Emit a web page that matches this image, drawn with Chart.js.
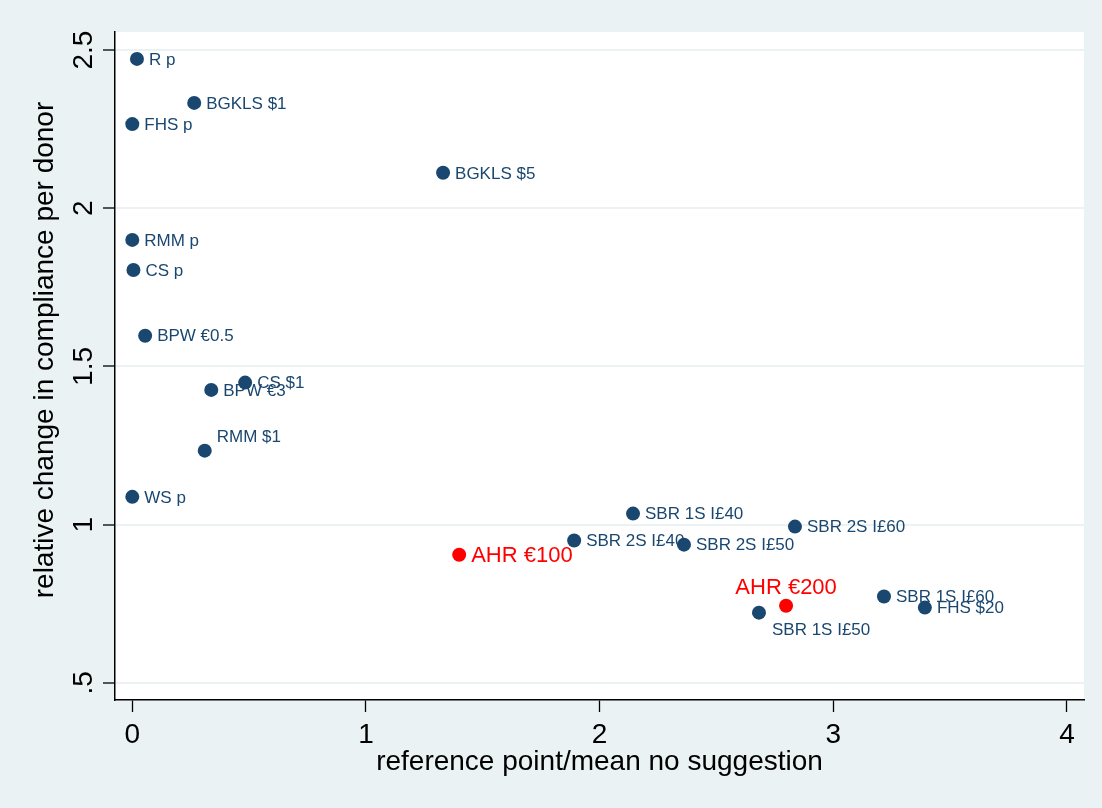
<!DOCTYPE html>
<html>
<head>
<meta charset="utf-8">
<script src="https://cdn.jsdelivr.net/npm/chart.js@4.4.0/dist/chart.umd.min.js"></script>
<style>
  html, body { margin: 0; padding: 0; background: #eaf2f3; }
  #wrap { width: 1102px; height: 808px; }
</style>
</head>
<body>
<div id="wrap"><canvas id="chart" width="1102" height="808"></canvas></div>
<script>
// studies (navy)
const studyNames = ["R p", "BGKLS $1", "FHS p", "BGKLS $5", "RMM p", "CS p", "BPW €0.5",
  "CS $1", "BPW €3", "RMM $1", "WS p", "SBR 1S I£40", "SBR 2S I£60", "SBR 2S I£40",
  "SBR 2S I£50", "SBR 1S I£50", "SBR 1S I£60", "FHS $20"];
const studyX = [0.02, 0.265, 0.0, 1.33, 0.0, 0.005, 0.055, 0.483, 0.338, 0.31, 0.0,
  2.143, 2.836, 1.891, 2.361, 2.682, 3.217, 3.392];
const studyY = [2.472, 2.333, 2.266, 2.112, 1.90, 1.805, 1.597, 1.449, 1.426, 1.234, 1.088,
  1.035, 0.994, 0.950, 0.937, 0.722, 0.773, 0.738];

// this study (red)
const ahrNames = ["AHR €100", "AHR €200"];
const ahrX = [1.399, 2.798];
const ahrY = [0.905, 0.744];

const xTicks = [0, 1, 2, 3, 4];
const yTicks = [0.5, 1, 1.5, 2, 2.5];
const yTickLabels = [".5", "1", "1.5", "2", "2.5"];

// clock position of each label (3 = right of marker)
const studyLabelPos = [3, 3, 3, 3, 3, 3, 3, 3, 3, 1, 3, 3, 3, 3, 3, 5, 3, 3];
const ahrLabelPos = [3, 12];

const NAVY = "#1a476f";
const FONT = '"Liberation Sans", Arial, sans-serif';

function pts(xs, ys) {
  return xs.map((x, i) => ({ x: x, y: ys[i] }));
}

const decor = {
  id: "decor",
  beforeDraw(chart) {
    const { ctx, chartArea: a } = chart;
    ctx.save();
    ctx.fillStyle = "#eaf2f3";
    ctx.fillRect(0, 0, chart.width, chart.height);
    ctx.fillStyle = "#ffffff";
    ctx.fillRect(a.left, a.top, a.right - a.left, a.bottom - a.top);
    ctx.restore();
  },
  afterDatasetsDraw(chart) {
    const ctx = chart.ctx;
    const xs = chart.scales.x, ys = chart.scales.y;
    ctx.save();
    chart.data.datasets.forEach(ds => {
      ds.data.forEach((p, i) => {
        const px = xs.getPixelForValue(p.x);
        const py = ys.getPixelForValue(p.y);
        const pos = ds.labelPos[i];
        ctx.fillStyle = ds.labelColor;
        ctx.font = ds.labelSize + "px " + FONT;
        ctx.textBaseline = "middle";
        ctx.textAlign = "left";
        let tx = px + 12, ty = py + 1;
        if (pos === 1) { tx = px + 12; ty = py - 13; }
        if (pos === 5) { tx = px + 13; ty = py + 18; }
        if (pos === 12) { ctx.textAlign = "center"; tx = px; ty = py - 18; }
        ctx.fillText(ds.names[i], tx, ty);
      });
    });
    ctx.restore();
  },
  afterDraw(chart) {
    const ctx = chart.ctx;
    const xs = chart.scales.x, ys = chart.scales.y;
    ctx.save();
    ctx.fillStyle = "#000";
    ctx.font = "28px " + FONT;
    ctx.textAlign = "center";
    ctx.textBaseline = "middle";
    xTicks.forEach(v => ctx.fillText(String(v), xs.getPixelForValue(v), 735));
    yTicks.forEach((v, i) => {
      ctx.save();
      ctx.translate(84, ys.getPixelForValue(v));
      ctx.rotate(-Math.PI / 2);
      ctx.fillText(yTickLabels[i], 0, 0);
      ctx.restore();
    });
    ctx.fillText("reference point/mean no suggestion", (chart.chartArea.left + chart.chartArea.right) / 2, 762);
    ctx.save();
    ctx.translate(45, 350);
    ctx.rotate(-Math.PI / 2);
    ctx.fillText("relative change in compliance per donor", 0, 0);
    ctx.restore();
    ctx.restore();
  }
};

new Chart(document.getElementById("chart"), {
  type: "scatter",
  data: {
    datasets: [
      {
        data: pts(studyX, studyY),
        names: studyNames,
        labelPos: studyLabelPos,
        labelColor: NAVY,
        labelSize: 17,
        backgroundColor: NAVY,
        borderWidth: 0,
        pointRadius: 7
      },
      {
        data: pts(ahrX, ahrY),
        names: ahrNames,
        labelPos: ahrLabelPos,
        labelColor: "#ff0000",
        labelSize: 22,
        backgroundColor: "#ff0000",
        borderWidth: 0,
        pointRadius: 7
      }
    ]
  },
  options: {
    responsive: false,
    animation: false,
    devicePixelRatio: 1,
    events: [],
    layout: { padding: { left: 103, right: 18, top: 32, bottom: 96 } },
    plugins: { legend: { display: false }, tooltip: { enabled: false } },
    scales: {
      x: {
        type: "linear",
        min: -0.074,
        max: 4.073,
        afterBuildTicks: s => { s.ticks = xTicks.map(v => ({ value: v })); },
        ticks: { display: false },
        grid: { drawOnChartArea: false, drawTicks: true, tickLength: 12, tickColor: "#000", tickWidth: 1.3 },
        border: { display: true, color: "#000", width: 1.5 }
      },
      y: {
        type: "linear",
        min: 0.446,
        max: 2.557,
        afterBuildTicks: s => { s.ticks = yTicks.map(v => ({ value: v })); },
        ticks: { display: false },
        grid: { color: "#eaf2f3", lineWidth: 2, drawTicks: true, tickLength: 12, tickColor: "#000", tickWidth: 1.3 },
        border: { display: true, color: "#000", width: 1.5 }
      }
    }
  },
  plugins: [decor]
});
</script>
</body>
</html>
